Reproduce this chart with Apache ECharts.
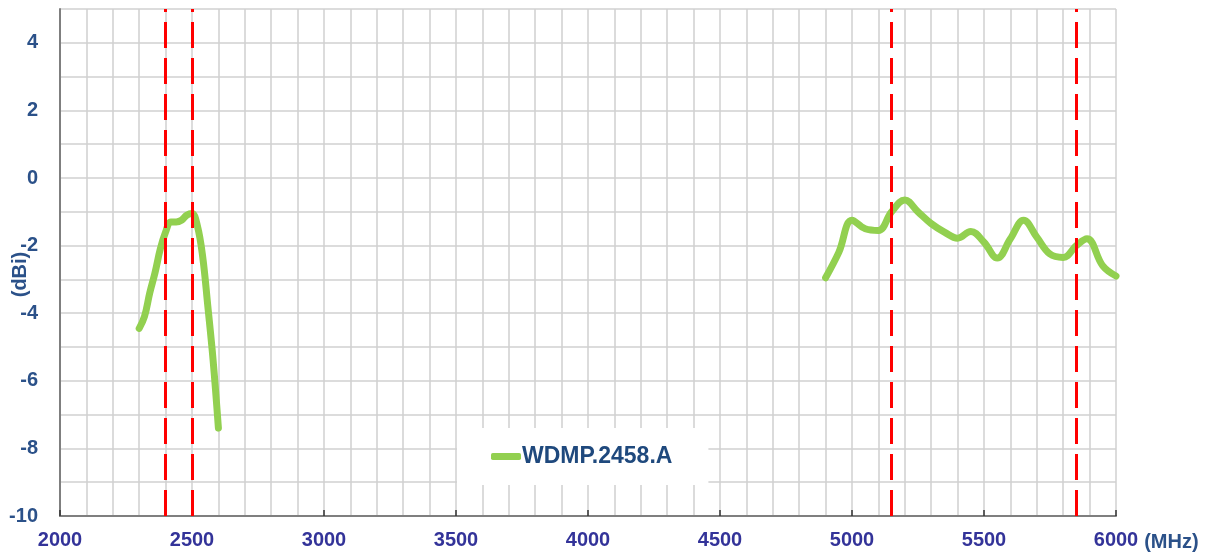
<!DOCTYPE html>
<html>
<head>
<meta charset="utf-8">
<script src="https://cdn.jsdelivr.net/npm/echarts@6/dist/echarts.min.js"></script>
<style>
  html, body { margin: 0; padding: 0; background: #fff; }
  #chart { width: 1207px; height: 554px; }
</style>
</head>
<body>
<div id="chart"></div>
<script>
// 2.4 GHz 频段
var lowFreq = [2300, 2320, 2340, 2360, 2380, 2400, 2420, 2440, 2460, 2480, 2500, 2520, 2540, 2560, 2580, 2600];
var lowGain = [-4.45, -4.1, -3.4, -2.8, -2.1, -1.6, -1.3, -1.3, -1.25, -1.1, -1.05, -1.4, -2.3, -3.8, -5.4, -7.4];
// 5 GHz 频段
var highFreq = [4900, 4950, 5000, 5050, 5100, 5150, 5200, 5250, 5300, 5350, 5400, 5450, 5500, 5550, 5600, 5650, 5700, 5750, 5800, 5850, 5890, 5950, 6000];
var highGain = [-2.95, -2.2, -1.25, -1.5, -1.55, -1.0, -0.65, -1.0, -1.35, -1.6, -1.78, -1.58, -1.9, -2.37, -1.8, -1.25, -1.75, -2.25, -2.35, -2.0, -1.8, -2.6, -2.9];
// 频段边界
var bandEdges = [2400, 2500, 5150, 5850];
var yLabels = [-10, -8, -6, -4, -2, 0, 2, 4];
var seriesName = 'WDMP.2458.A';

var font = 'Arial, "Liberation Sans", sans-serif';
var data = [];
for (var i = 0; i < lowFreq.length; i++) data.push([lowFreq[i], lowGain[i]]);
data.push([2750, '-']); // 断开两段曲线
for (var j = 0; j < highFreq.length; j++) data.push([highFreq[j], highGain[j]]);

var chart = echarts.init(document.getElementById('chart'));
chart.setOption({
  animation: false,
  grid: { left: 60, right: 91, top: 9, bottom: 38, containLabel: false, outerBoundsMode: 'none' },
  legend: {
    left: 457,
    top: 428,
    padding: [17, 36, 17, 34],
    backgroundColor: '#fff',
    icon: 'roundRect',
    itemWidth: 30,
    itemHeight: 7,
    itemGap: 0,
    textStyle: { fontFamily: font, fontWeight: 'bold', fontSize: 23, color: '#1F497D', padding: [0, 0, 0, -4] },
    data: [seriesName]
  },
  xAxis: {
    type: 'value',
    min: 2000,
    max: 6000,
    interval: 500,
    name: '(MHz)',
    nameLocation: 'end',
    nameGap: 24,
    nameTextStyle: { fontFamily: font, fontWeight: 'bold', fontSize: 20, color: '#2B5189', verticalAlign: 'top', padding: [16, 0, 0, 0] },
    axisLine: { onZero: false, lineStyle: { color: '#7f7f7f', width: 2 } },
    axisTick: { inside: true, length: 6, lineStyle: { color: '#333', width: 1.5 } },
    axisLabel: { margin: 14, fontFamily: font, fontWeight: 'bold', fontSize: 20, color: '#333399', formatter: function(v) { return String(v); } },
    splitLine: { show: true, lineStyle: { color: '#d0d0d0', width: 1.5 } },
    minorTick: { show: false, splitNumber: 5 },
    minorSplitLine: { show: true, lineStyle: { color: '#d0d0d0', width: 1.5 } }
  },
  yAxis: {
    type: 'value',
    min: -10,
    max: 5,
    interval: 1,
    name: '(dBi)',
    nameLocation: 'middle',
    nameRotate: 90,
    nameGap: 30,
    nameMoveOverlap: false,
    nameTextStyle: { fontFamily: font, fontWeight: 'bold', fontSize: 20, color: '#2B5189', padding: [0, 24, 0, 0] },
    axisLine: { show: true, lineStyle: { color: '#7f7f7f', width: 2 } },
    axisTick: { show: false },
    axisLabel: {
      margin: 22, fontFamily: font, fontWeight: 'bold', fontSize: 20, color: '#2B5189',
      formatter: function(v) { return yLabels.indexOf(v) >= 0 ? String(v) : ''; }
    },
    splitLine: { show: true, lineStyle: { color: '#d0d0d0', width: 1.5 } }
  },
  series: [{
    name: seriesName,
    type: 'line',
    smooth: 0.4,
    symbol: 'none',
    connectNulls: false,
    z: 3,
    lineStyle: { color: '#92D050', width: 7, cap: 'round', join: 'round' },
    itemStyle: { color: '#92D050' },
    data: data
  }, {
    name: 'bands',
    type: 'line',
    data: [],
    z: 4,
    markLine: {
      silent: true,
      symbol: 'none',
      label: { show: false },
      lineStyle: { color: '#ff0000', width: 3, type: [26, 10] },
      data: bandEdges.map(function(v) { return { xAxis: v }; })
    }
  }]
});
</script>
</body>
</html>
